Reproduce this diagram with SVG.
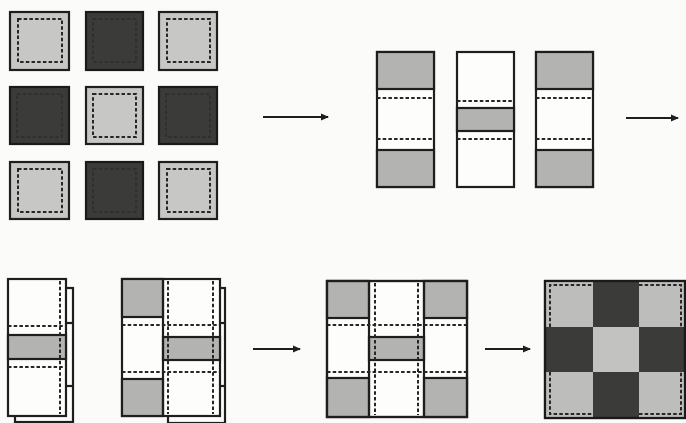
<svg xmlns="http://www.w3.org/2000/svg" width="686" height="423" viewBox="0 0 686 423">
<defs>
<style>
.bg{fill:#fbfbf9}
.lt{fill:#c7c7c5;stroke:#1e1e1e;stroke-width:2.2}
.dk{fill:#3b3b3a;stroke:#1a1a1a;stroke-width:2.2}
.dl{fill:none;stroke:#262626;stroke-width:2;stroke-dasharray:3.5 2.2}
.dd{fill:none;stroke:#2e2e2e;stroke-width:1.6;stroke-dasharray:3.5 2.2}
.wh{fill:#fdfdfb;stroke:#1e1e1e;stroke-width:2.2}
.gr{fill:#b3b3b1;stroke:#1e1e1e;stroke-width:2.2}
.ln{stroke:#1e1e1e;stroke-width:2.2;fill:none}
.ar{stroke:#1e1e1e;stroke-width:2;fill:none;marker-end:url(#ah)}
</style>
<marker id="ah" markerWidth="8" markerHeight="8" refX="7" refY="4" orient="auto" markerUnits="userSpaceOnUse">
<path d="M0,0.5 L8,4 L0,7.5 Z" fill="#1e1e1e"/>
</marker>
</defs>
<rect class="bg" x="0" y="0" width="686" height="423"/>

<g id="sq11"><rect class="lt" x="10" y="12" width="59" height="58"/><rect class="dl" x="18" y="19" width="44" height="43"/></g>
<g id="sq12"><rect class="dk" x="86" y="12" width="57" height="58"/><rect class="dd" x="93" y="19" width="43" height="43"/></g>
<g id="sq13"><rect class="lt" x="159" y="12" width="58" height="58"/><rect class="dl" x="167" y="19" width="43" height="43"/></g>
<g id="sq21"><rect class="dk" x="10" y="87" width="59" height="57"/><rect class="dd" x="17" y="94" width="45" height="43"/></g>
<g id="sq22"><rect class="lt" x="86" y="87" width="57" height="57"/><rect class="dl" x="93" y="94" width="43" height="43"/></g>
<g id="sq23"><rect class="dk" x="159" y="87" width="58" height="57"/><rect class="dd" x="166" y="94" width="44" height="43"/></g>
<g id="sq31"><rect class="lt" x="10" y="162" width="59" height="57"/><rect class="dl" x="18" y="169" width="44" height="43"/></g>
<g id="sq32"><rect class="dk" x="86" y="162" width="57" height="57"/><rect class="dd" x="93" y="169" width="43" height="43"/></g>
<g id="sq33"><rect class="lt" x="159" y="162" width="58" height="57"/><rect class="dl" x="167" y="169" width="43" height="43"/></g>

<g id="strip1">
<rect class="wh" x="377" y="52" width="57" height="135"/>
<rect class="gr" x="377" y="52" width="57" height="37"/>
<rect class="gr" x="377" y="150" width="57" height="37"/>
<line class="dl" x1="377" y1="98" x2="434" y2="98"/>
<line class="dl" x1="377" y1="139" x2="434" y2="139"/>
</g>
<g id="strip2">
<rect class="wh" x="457" y="52" width="57" height="135"/>
<rect class="gr" x="457" y="108" width="57" height="23"/>
<line class="dl" x1="457" y1="101" x2="514" y2="101"/>
<line class="dl" x1="457" y1="139" x2="514" y2="139"/>
</g>
<g id="strip3">
<rect class="wh" x="536" y="52" width="57" height="135"/>
<rect class="gr" x="536" y="52" width="57" height="37"/>
<rect class="gr" x="536" y="150" width="57" height="37"/>
<line class="dl" x1="536" y1="98" x2="593" y2="98"/>
<line class="dl" x1="536" y1="139" x2="593" y2="139"/>
</g>

<g id="fold1">
<rect class="wh" x="15" y="288" width="58" height="134"/>
<line class="ln" x1="66" y1="323" x2="73" y2="323"/>
<line class="ln" x1="66" y1="386" x2="73" y2="386"/>
<rect class="wh" x="8" y="279" width="58" height="137"/>
<rect class="gr" x="8" y="335" width="58" height="24"/>
<line class="dl" x1="8" y1="326" x2="66" y2="326"/>
<line class="dl" x1="8" y1="367" x2="66" y2="367"/>
<line class="dl" x1="60" y1="281" x2="60" y2="414"/>
</g>

<g id="fold2">
<rect class="wh" x="168" y="288" width="57" height="135"/>
<line class="ln" x1="220" y1="323" x2="225" y2="323"/>
<line class="ln" x1="220" y1="386" x2="225" y2="386"/>
<rect class="wh" x="122" y="279" width="98" height="137"/>
<rect class="gr" x="122" y="279" width="41" height="38"/>
<rect class="gr" x="122" y="379" width="41" height="37"/>
<rect class="gr" x="163" y="337" width="57" height="23"/>
<line class="ln" x1="163" y1="279" x2="163" y2="416"/>
<line class="dl" x1="122" y1="325" x2="220" y2="325"/>
<line class="dl" x1="122" y1="372" x2="220" y2="372"/>
<line class="dl" x1="168" y1="281" x2="168" y2="414"/>
<line class="dl" x1="213" y1="281" x2="213" y2="414"/>
</g>

<g id="woven">
<rect class="wh" x="327" y="281" width="140" height="136"/>
<rect class="gr" x="327" y="281" width="42" height="37"/>
<rect class="gr" x="327" y="378" width="42" height="39"/>
<rect class="gr" x="424" y="281" width="43" height="37"/>
<rect class="gr" x="424" y="378" width="43" height="39"/>
<rect class="gr" x="369" y="337" width="55" height="23"/>
<line class="ln" x1="369" y1="281" x2="369" y2="417"/>
<line class="ln" x1="424" y1="281" x2="424" y2="417"/>
<line class="dl" x1="327" y1="325" x2="467" y2="325"/>
<line class="dl" x1="327" y1="372" x2="467" y2="372"/>
<line class="dl" x1="375" y1="283" x2="375" y2="415"/>
<line class="dl" x1="418" y1="283" x2="418" y2="415"/>
<rect x="327" y="281" width="140" height="136" fill="none" stroke="#1e1e1e" stroke-width="2.2"/>
</g>

<g id="final">
<rect class="dk" x="545" y="281" width="140" height="137"/>
<rect x="546" y="282" width="47" height="45" fill="#bdbdbb"/>
<rect x="639" y="282" width="45" height="45" fill="#bdbdbb"/>
<rect x="593" y="327" width="46" height="45" fill="#c2c2c0"/>
<rect x="546" y="372" width="47" height="45" fill="#bdbdbb"/>
<rect x="639" y="372" width="45" height="45" fill="#bdbdbb"/>
<polyline class="dl" points="550,327 550,285 593,285"/>
<polyline class="dl" points="639,285 681,285 681,327"/>
<polyline class="dl" points="550,372 550,414 593,414"/>
<polyline class="dl" points="639,414 681,414 681,372"/>
<rect x="545" y="281" width="140" height="137" fill="none" stroke="#1a1a1a" stroke-width="2.2"/>
</g>

<g id="connectors">
<line class="ar" x1="263" y1="117" x2="328" y2="117"/>
<line class="ar" x1="626" y1="118" x2="678" y2="118"/>
<line class="ar" x1="253" y1="349" x2="300" y2="349"/>
<line class="ar" x1="485" y1="349" x2="530" y2="349"/>
</g>
</svg>
